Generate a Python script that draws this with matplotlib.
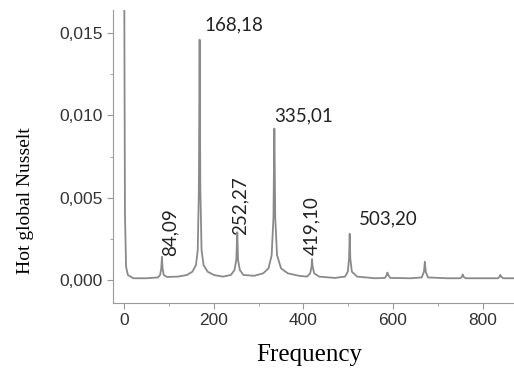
import matplotlib

matplotlib.use("Agg")

import matplotlib.pyplot as plt
from matplotlib.ticker import FuncFormatter, MultipleLocator

# spectrum points (frequency, hot global Nusselt)
freq = [0, 1.5, 4, 8, 20, 50, 75, 80, 82.5, 84.09, 85.5, 88, 95,
        120, 140, 152, 160, 164, 166.5, 168.18, 169.8, 172.5, 177, 186, 200, 220,
        238, 246, 250, 252.27, 254, 258, 266, 290,
        310, 322, 329, 333, 335.01, 337, 341, 350, 365, 390,
        408, 415, 418, 419.1, 420.5, 424, 435, 470,
        493, 499, 501.8, 503.2, 504.6, 508, 520, 560,
        582, 586, 587.5, 589, 594, 640,
        664, 669, 671, 673, 678, 720,
        750, 754, 755.5, 757, 762, 800,
        834, 838, 839.5, 841, 846, 870]
nusselt = [0.0175, 0.004, 0.0008, 0.0003, 0.0001, 0.0001, 0.00015, 0.0003, 0.0007, 0.0014, 0.0007, 0.0003, 0.00018,
           0.0002, 0.0003, 0.0005, 0.0009, 0.0018, 0.0055, 0.0146, 0.0055, 0.0018, 0.0009, 0.0005, 0.0003, 0.0002,
           0.0003, 0.0006, 0.0012, 0.0029, 0.0012, 0.0006, 0.0003, 0.00025,
           0.0004, 0.0007, 0.0015, 0.0038, 0.0092, 0.0038, 0.0015, 0.0007, 0.0004, 0.00025,
           0.0002, 0.0004, 0.0008, 0.00127, 0.0008, 0.0004, 0.0002, 0.00012,
           0.0002, 0.0005, 0.0013, 0.0028, 0.0013, 0.0005, 0.0002, 0.0001,
           0.00012, 0.0003, 0.00045, 0.0003, 0.00012, 0.0001,
           0.00015, 0.0005, 0.0011, 0.0005, 0.00015, 0.0001,
           0.0001, 0.0002, 0.00033, 0.0002, 0.0001, 0.0001,
           0.0001, 0.0002, 0.0003, 0.0002, 0.0001, 0.0001]

peak_labels = ["168,18", "335,01", "503,20", "84,09", "252,27", "419,10"]
label_x = [178, 334, 523, 101, 259, 418]
label_y = [0.0155, 0.0100, 0.0037, 0.0029, 0.0045, 0.0033]
label_rot = [0, 0, 0, 90, 90, 90]


def comma(v, pos):
    return f"{v:.3f}".replace(".", ",")


fig = plt.figure(figsize=(5.14, 3.74), dpi=100)
ax = fig.add_axes([0.22, 0.19, 0.78, 0.783])

ax.plot(freq, nusselt, color="#8a8a8a", lw=1.3)

for txt, x, y, rot in zip(peak_labels, label_x, label_y, label_rot):
    ax.text(x, y, txt, rotation=rot, ha="left" if rot == 0 else "center",
            va="center", fontsize=13.5, family="Lato", color="#222222")

ax.set_xlim(-25, 870)
ax.set_ylim(-0.0014, 0.0164)
ax.xaxis.set_major_locator(MultipleLocator(200))
ax.xaxis.set_minor_locator(MultipleLocator(100))
ax.yaxis.set_major_locator(MultipleLocator(0.005))
ax.yaxis.set_minor_locator(MultipleLocator(0.0025))
ax.yaxis.set_major_formatter(FuncFormatter(comma))

for s in ("top", "right"):
    ax.spines[s].set_visible(False)
for s in ("left", "bottom"):
    ax.spines[s].set_color("#999999")
ax.tick_params(which="major", length=4, color="#999999", labelsize=12.5,
               labelcolor="#333333")
ax.tick_params(which="minor", length=2, color="#999999")
for lab in ax.get_xticklabels() + ax.get_yticklabels():
    lab.set_family("Liberation Sans")

ax.set_xlabel("Frequency", family="Liberation Serif", fontsize=18)
ax.set_ylabel("Hot global Nusselt", family="Liberation Serif", fontsize=14)
ax.xaxis.set_label_coords(0.49, -0.14)
ax.yaxis.set_label_coords(-0.197, 0.35)

fig.savefig("out.png", dpi=100)
plt.close(fig)
